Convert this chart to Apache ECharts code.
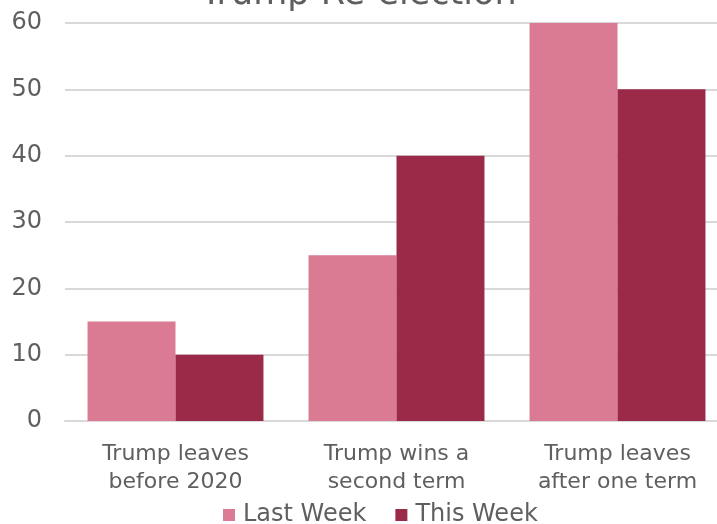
<!DOCTYPE html>
<html><head><meta charset="utf-8">
<script src="https://cdn.jsdelivr.net/npm/echarts@6/dist/echarts.min.js"></script>
<style>html,body{margin:0;padding:0;background:#fff}#c{width:717px;height:524px}</style>
</head><body><div id="c"></div>
<script>
const categories = ["Trump leaves\nbefore 2020", "Trump wins a\nsecond term", "Trump leaves\nafter one term"];
const lastWeek = [15, 25, 60];
const thisWeek = [10, 40, 50];
const yTicks = [0, 10, 20, 30, 40, 50, 60];
const chart = echarts.init(document.getElementById('c'));
const font = '"DejaVu Sans", sans-serif';
chart.setOption({
  animation: false,
  title: {text: 'Trump Re-election', left: 'center', top: -28,
    textStyle: {fontFamily: font, fontSize: 35, fontWeight: 'normal', color: '#5f5f5f'}},
  legend: {bottom: -8, left: 218, itemWidth: 12, itemHeight: 12, itemGap: 29,
    icon: 'rect',
    textStyle: {fontFamily: font, fontSize: 24, color: '#5f5f5f', padding: [0,0,0,3]},
    data: ['Last Week', 'This Week']},
  grid: {left: 65, width: 663, top: 23, bottom: 103, containLabel: false, outerBoundsMode: 'none'},
  xAxis: {type: 'category', data: categories,
    axisLine: {lineStyle: {color: '#d9d9d9', width: 2}}, axisTick: {show: false},
    axisLabel: {fontFamily: font, fontSize: 22, color: '#5f5f5f', lineHeight: 28, margin: 19}},
  yAxis: {type: 'value', min: 0, max: 60, interval: 10,
    axisLine: {show: false}, axisTick: {show: false},
    splitLine: {lineStyle: {color: '#d9d9d9', width: 2}},
    axisLabel: {fontFamily: font, fontSize: 24, color: '#5f5f5f', margin: 23,
      formatter: v => yTicks.includes(v) ? String(v) : ''}},
  series: [
    {name: 'Last Week', type: 'bar', data: lastWeek, itemStyle: {color: '#DA7B93'}, barGap: '0%', barCategoryGap: '20.4%'},
    {name: 'This Week', type: 'bar', data: thisWeek, itemStyle: {color: '#9B2A48'}, barGap: '0%', barCategoryGap: '20.4%'}
  ]
});
</script></body></html>
